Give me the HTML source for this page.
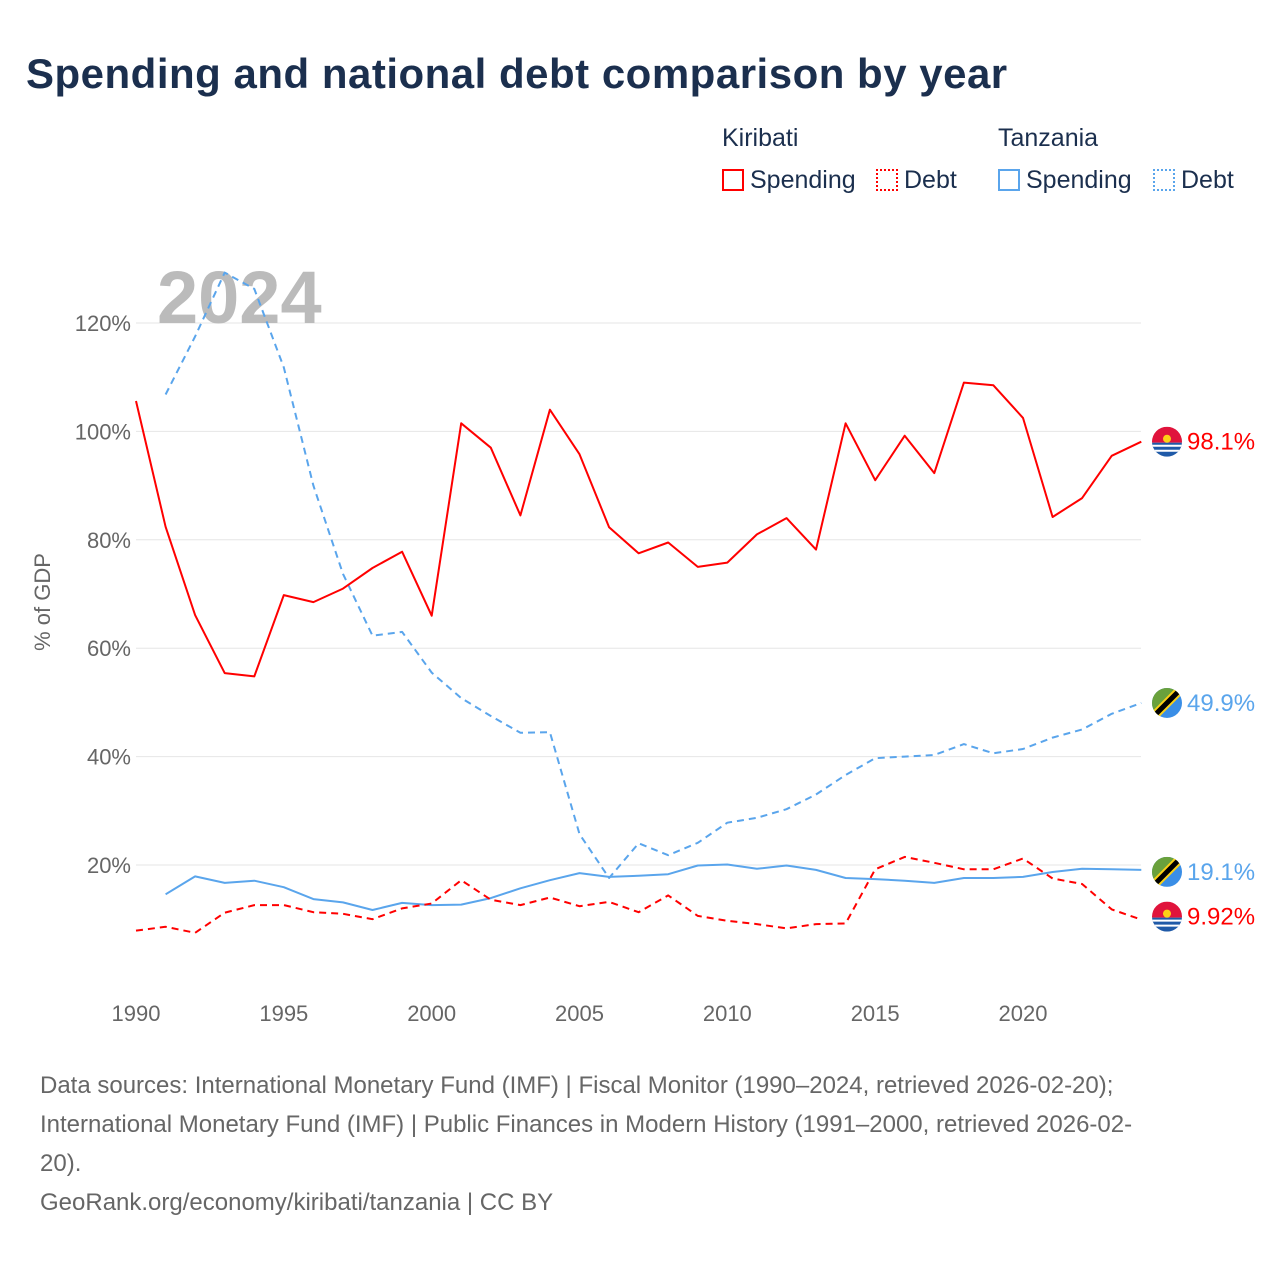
<!DOCTYPE html>
<html><head><meta charset="utf-8">
<style>
body{margin:0;background:#fff;font-family:"Liberation Sans",sans-serif;}
#wrap{position:relative;width:1280px;height:1280px;overflow:hidden;}
h1{position:absolute;left:26px;top:50px;margin:0;font-size:42px;font-weight:bold;color:#1b2f4e;letter-spacing:0.5px}
.leg{position:absolute;font-size:25px;color:#1b2f4e}
.src{position:absolute;left:40px;top:1066px;width:1220px;font-size:24px;line-height:39px;color:#666}
</style></head><body>
<div id="wrap">
<h1>Spending and national debt comparison by year</h1>
<div class="leg" style="left:722px;top:124px">Kiribati</div>
<div class="leg" style="left:998px;top:124px">Tanzania</div>
<div class="leg" style="left:722px;top:166px"><span style="display:inline-block;width:22px;height:22px;border:2px solid #f00;box-sizing:border-box;vertical-align:-3px;margin-right:6px"></span>Spending</div>
<div class="leg" style="left:876px;top:166px"><span style="display:inline-block;width:22px;height:22px;border:2px dotted #f00;box-sizing:border-box;vertical-align:-3px;margin-right:6px"></span>Debt</div>
<div class="leg" style="left:998px;top:166px"><span style="display:inline-block;width:22px;height:22px;border:2px solid #5aa5ec;box-sizing:border-box;vertical-align:-3px;margin-right:6px"></span>Spending</div>
<div class="leg" style="left:1153px;top:166px"><span style="display:inline-block;width:22px;height:22px;border:2px dotted #5aa5ec;box-sizing:border-box;vertical-align:-3px;margin-right:6px"></span>Debt</div>
<svg id="chart" width="1280" height="1280" style="position:absolute;left:0;top:0"></svg>
<div class="src">Data sources: International Monetary Fund (IMF) | Fiscal Monitor (1990–2024, retrieved 2026-02-20);<br>International Monetary Fund (IMF) | Public Finances in Modern History (1991–2000, retrieved 2026-02-<br>20).<br>GeoRank.org/economy/kiribati/tanzania | CC BY</div>
</div>
<script>
const kirYears=[1990,1991,1992,1993,1994,1995,1996,1997,1998,1999,2000,2001,2002,2003,2004,2005,2006,2007,2008,2009,2010,2011,2012,2013,2014,2015,2016,2017,2018,2019,2020,2021,2022,2023,2024];
const kirSpending=[105.6,82.4,66.1,55.4,54.8,69.8,68.5,71,74.8,77.8,66,101.5,97,84.5,104,95.8,82.3,77.5,79.5,75,75.8,81,84,78.2,101.5,91,99.2,92.3,109,108.5,102.5,84.2,87.7,95.5,98.1];
const kirDebt=[7.9,8.6,7.5,11.2,12.6,12.6,11.3,11,10,12,12.9,17.2,13.6,12.6,14,12.4,13.2,11.3,14.4,10.6,9.7,9.1,8.3,9.1,9.2,19.2,21.5,20.4,19.2,19.2,21.2,17.5,16.5,11.8,9.92];
const tzaYears=[1991,1992,1993,1994,1995,1996,1997,1998,1999,2000,2001,2002,2003,2004,2005,2006,2007,2008,2009,2010,2011,2012,2013,2014,2015,2016,2017,2018,2019,2020,2021,2022,2023,2024];
const tzaSpending=[14.6,17.9,16.7,17.1,15.9,13.7,13.1,11.7,13,12.6,12.7,13.9,15.7,17.2,18.5,17.8,18,18.3,19.9,20.1,19.3,19.9,19.1,17.6,17.4,17.1,16.7,17.6,17.6,17.8,18.7,19.3,19.2,19.1];
const tzaDebt=[106.8,117.5,129.3,126.3,111.8,90,73.7,62.3,63,55.5,50.8,47.5,44.4,44.5,25.7,17.6,24,21.8,24.1,27.8,28.7,30.3,33,36.6,39.7,40,40.3,42.3,40.6,41.4,43.5,45,47.9,49.9];
const yTicks=[20,40,60,80,100,120];
const xTicks=[1990,1995,2000,2005,2010,2015,2020];
const endLabels=["98.1%","9.92%","49.9%","19.1%"];

const svg=document.getElementById('chart');
const NS='http://www.w3.org/2000/svg';
const X=y=>136+(y-1990)*(1023-136)/30;
const Y=v=>973.4-v*5.42;
function mk(t,a,txt){const e=document.createElementNS(NS,t);for(const k in a)e.setAttribute(k,a[k]);if(txt!==undefined)e.textContent=txt;svg.appendChild(e);return e;}
yTicks.forEach(v=>{
 const g=mk('line',{x1:136,x2:1141,y1:Y(v),y2:Y(v),stroke:'#e6e6e6','stroke-width':1});
 
 
 const t=mk('text',{x:131,y:Y(v)+8,'text-anchor':'end','font-size':22,fill:'#666','font-family':'Liberation Sans, sans-serif'},v+'%');
 
 
});
xTicks.forEach(v=>{
 const t=mk('text',{x:X(v),y:1021,'text-anchor':'middle','font-size':22,fill:'#666','font-family':'Liberation Sans, sans-serif'},v);
 
 
});
const yt=mk('text',{transform:'translate(50,602) rotate(-90)','text-anchor':'middle','font-size':22,fill:'#666','font-family':'Liberation Sans, sans-serif'},'% of GDP');


const yr=mk('text',{x:157,y:323,'font-size':74,'font-weight':'bold',fill:'#bbb','font-family':'Liberation Sans, sans-serif'},'2024');


function line(xs,vs,col,dash,name){
 const d=xs.map((x,i)=>(i?'L':'M')+X(x).toFixed(1)+','+Y(vs[i]).toFixed(1)).join('');
 const p=mk('path',{d:d,fill:'none',stroke:col,'stroke-width':2,'stroke-dasharray':dash||'none','stroke-linejoin':'round'});
 
 
}
line(tzaYears,tzaDebt,'#5aa5ec','7,5','line-tanzania-debt');
line(tzaYears,tzaSpending,'#5aa5ec','','line-tanzania-spending');
line(kirYears,kirDebt,'#f00','7,5','line-kiribati-debt');
line(kirYears,kirSpending,'#f00','','line-kiribati-spending');
function flag(cy,kind,label,col,name){
 const cx=1167;
 const g=document.createElementNS(NS,'g');svg.appendChild(g);
 
 
 const id='c'+Math.round(cy);
 const cp=document.createElementNS(NS,'clipPath');cp.setAttribute('id',id);
 const cc=document.createElementNS(NS,'circle');cc.setAttribute('cx',cx);cc.setAttribute('cy',cy);cc.setAttribute('r',15);cp.appendChild(cc);g.appendChild(cp);
 const add=(t,a)=>{const e=document.createElementNS(NS,t);for(const k in a)e.setAttribute(k,a[k]);e.setAttribute('clip-path','url(#'+id+')');g.appendChild(e);};
 if(kind==='k'){
  add('rect',{x:cx-15,y:cy-15,width:30,height:16,fill:'#e0143c'});
  add('rect',{x:cx-15,y:cy+1,width:30,height:14,fill:'#1f5aa8'});
  add('path',{d:`M${cx-15},${cy+4}h30M${cx-15},${cy+9}h30`,stroke:'#fff','stroke-width':2});
  add('circle',{cx:cx,cy:cy-3,r:4,fill:'#fcd116'});
 }else{
  add('rect',{x:cx-15,y:cy-15,width:30,height:30,fill:'#3a8ee6'});
  add('path',{d:`M${cx-15},${cy-15}h30L${cx-15},${cy+15}z`,fill:'#6aa13c'});
  add('line',{x1:cx-17,y1:cy+17,x2:cx+17,y2:cy-17,stroke:'#fcd116','stroke-width':9});
  add('line',{x1:cx-17,y1:cy+17,x2:cx+17,y2:cy-17,stroke:'#000','stroke-width':5});
 }
 const t=mk('text',{x:1187,y:cy+8,'font-size':24,fill:col,'font-family':'Liberation Sans, sans-serif'},label);
 
 
}
flag(Y(kirSpending[kirSpending.length-1]),'k',endLabels[0],'#f00','end-kiribati-spending');
flag(Y(kirDebt[kirDebt.length-1])-3,'k',endLabels[1],'#f00','end-kiribati-debt');
flag(Y(tzaDebt[tzaDebt.length-1]),'t',endLabels[2],'#5aa5ec','end-tanzania-debt');
flag(Y(tzaSpending[tzaSpending.length-1])+2,'t',endLabels[3],'#5aa5ec','end-tanzania-spending');
</script>
</body></html>
